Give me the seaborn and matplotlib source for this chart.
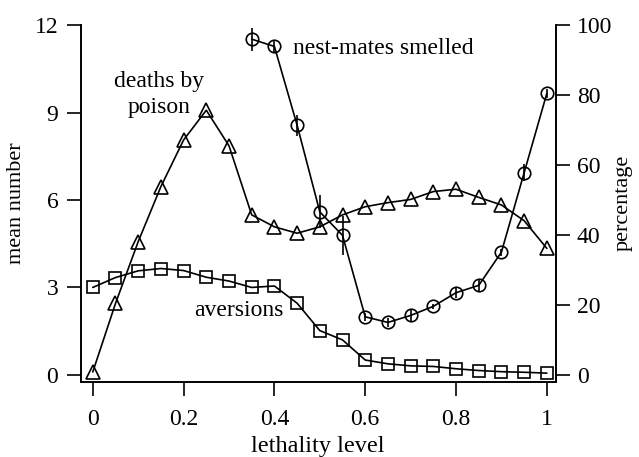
import matplotlib
matplotlib.use("Agg")
import matplotlib.pyplot as plt
import seaborn as sns
import pandas as pd

sns.set_theme(style="white")
plt.rcParams['font.family'] = ['Liberation Serif', 'DejaVu Serif']
plt.rcParams['text.color'] = 'black'
plt.rcParams['axes.labelcolor'] = 'black'
plt.rcParams['axes.linewidth'] = 1.0

# ---- data ----
lethality = [0.0, 0.05, 0.1, 0.15, 0.2, 0.25, 0.3, 0.35, 0.4, 0.45, 0.5,
             0.55, 0.6, 0.65, 0.7, 0.75, 0.8, 0.85, 0.9, 0.95, 1.0]
deaths_by_poison = [0.1, 2.45, 4.57, 6.46, 8.06, 9.08, 7.86, 5.49, 5.08, 4.86, 5.08,
                    5.49, 5.77, 5.91, 6.02, 6.29, 6.37, 6.09, 5.83, 5.29, 4.34]
aversions = [3.0, 3.34, 3.57, 3.65, 3.58, 3.35, 3.22, 3.0, 3.05, 2.46, 1.52,
             1.2, 0.51, 0.38, 0.31, 0.29, 0.21, 0.15, 0.11, 0.09, 0.06]
smelled_x = [0.35, 0.4, 0.45, 0.5, 0.55, 0.6, 0.65, 0.7, 0.75, 0.8, 0.85, 0.9, 0.95, 1.0]
nest_mates_smelled = [96.0, 93.9, 71.4, 46.6, 39.9, 16.6, 15.0, 17.0, 19.6, 23.5, 25.6,
                      35.1, 57.8, 80.5]
smelled_err = [3.3, 1.5, 3.0, 4.7, 5.5, 1.2, 1.2, 1.5, 0.8, 1.5, 1.5, 1.0, 2.5, 1.2]

x_ticks = [0, 0.2, 0.4, 0.6, 0.8, 1]
x_ticklabels = ["0", "0.2", "0.4", "0.6", "0.8", "1"]
left_ticks = [0, 3, 6, 9, 12]
right_ticks = [0, 20, 40, 60, 80, 100]

df_counts = pd.DataFrame({"lethality": lethality,
                          "deaths": deaths_by_poison,
                          "aversions": aversions})
df_smell = pd.DataFrame({"lethality": smelled_x, "smelled": nest_mates_smelled,
                         "err": smelled_err})

FS = 17
fig = plt.figure(figsize=(6.39, 4.57), dpi=100)
ax = fig.add_axes([0.126, 0.165, 0.744, 0.780])
ax2 = ax.twinx()

mk = dict(color="black", linewidth=1.2, markerfacecolor="none",
          markeredgecolor="black", markeredgewidth=1.2)
sns.lineplot(data=df_counts, x="lethality", y="deaths", marker="^",
             markersize=10, ax=ax, **mk)
sns.lineplot(data=df_counts, x="lethality", y="aversions", marker="s",
             markersize=8, ax=ax, **mk)
sns.lineplot(data=df_smell, x="lethality", y="smelled", marker="o",
             markersize=9, ax=ax2, **mk)
ax2.errorbar(df_smell["lethality"], df_smell["smelled"], yerr=df_smell["err"],
             fmt="none", ecolor="black", elinewidth=1.2, capsize=0)

ymin = -0.23
ax.set_xlim(-0.027, 1.02)
ax.set_ylim(ymin, 12)
ax2.set_ylim(ymin / 12 * 100, 100)

for a in (ax, ax2):
    a.spines["top"].set_visible(False)
    for s in a.spines.values():
        s.set_color("black")
        s.set_linewidth(1.2)
ax.spines["left"].set_bounds(ymin, 12)
ax2.spines["right"].set_bounds(ymin / 12 * 100, 100)

ax.set_xticks(x_ticks)
ax.set_xticklabels(x_ticklabels)
ax.set_yticks(left_ticks)
ax2.set_yticks(right_ticks)
ax.tick_params(axis="x", direction="out", length=10, width=1.2, pad=10,
               labelsize=FS, colors="black", bottom=True)
ax.tick_params(axis="y", direction="out", length=10, width=1.2, pad=6,
               labelsize=FS, colors="black", left=True)
ax2.tick_params(axis="y", direction="out", length=10, width=1.2, pad=5,
                labelsize=FS, colors="black", right=True)

ax.set_xlabel("lethality level", fontsize=17.5, color="black", labelpad=4)
ax.set_ylabel("mean number", fontsize=16, color="black", labelpad=6)
ax2.set_ylabel("percentage", fontsize=16, color="black", labelpad=1)
ax.grid(False)
ax2.grid(False)

# annotations (figure pixel coordinates converted to fractions)
W, H = 639, 457
fig.text(159 / W, 1 - 82 / H, "deaths by", ha="center", va="center", fontsize=FS, color="black")
fig.text(159 / W, 1 - 108 / H, "poison", ha="center", va="center", fontsize=FS, color="black")
fig.text(238.5 / W, 1 - 310 / H, "aversions", ha="center", va="center", fontsize=FS, color="black")
fig.text(293 / W, 1 - 48 / H, "nest-mates smelled", ha="left", va="center", fontsize=FS, color="black")

fig.savefig("out.png", dpi=100)
